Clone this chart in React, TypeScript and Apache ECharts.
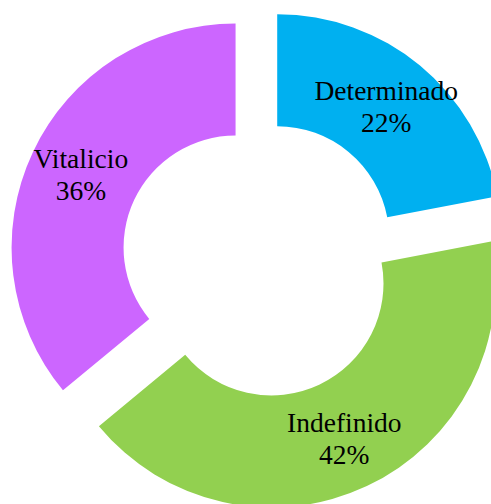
import React, { useEffect, useRef } from "react";
import * as echarts from "echarts";

const categories = ["Determinado", "Indefinido", "Vitalicio"];
const values = [22, 42, 36];
const colors = ["#00B0F0", "#92D050", "#CC66FF"];

export default function App() {
  const ref = useRef<HTMLDivElement>(null);
  useEffect(() => {
    if (!ref.current) return;
    const chart = echarts.init(ref.current, undefined, { renderer: "svg" });
    chart.setOption({
      animation: false,
      backgroundColor: "#ffffff",
      series: [
        {
          type: "pie",
          center: [260, 259],
          radius: [112, 224],
          startAngle: 90,
          clockwise: true,
          selectedMode: "multiple",
          selectedOffset: 27,
          avoidLabelOverlap: false,
          emphasis: { disabled: true },
          label: {
            show: true,
            position: "inside",
            fontFamily: "Liberation Serif",
            fontSize: 27.5,
            lineHeight: 32,
            color: "#000000",
            formatter: (p: any) => `${p.name}\n${Math.round(p.percent)}%`,
          },
          labelLine: { show: false },
          data: categories.map((name, i) => ({
            name,
            value: values[i],
            selected: true,
            itemStyle: { color: colors[i] },
          })),
        },
      ],
    });
    return () => chart.dispose();
  }, []);
  return (
    <div
      ref={ref}
      style={{ position: "absolute", left: 0, top: 0, width: 491, height: 504 }}
    />
  );
}
